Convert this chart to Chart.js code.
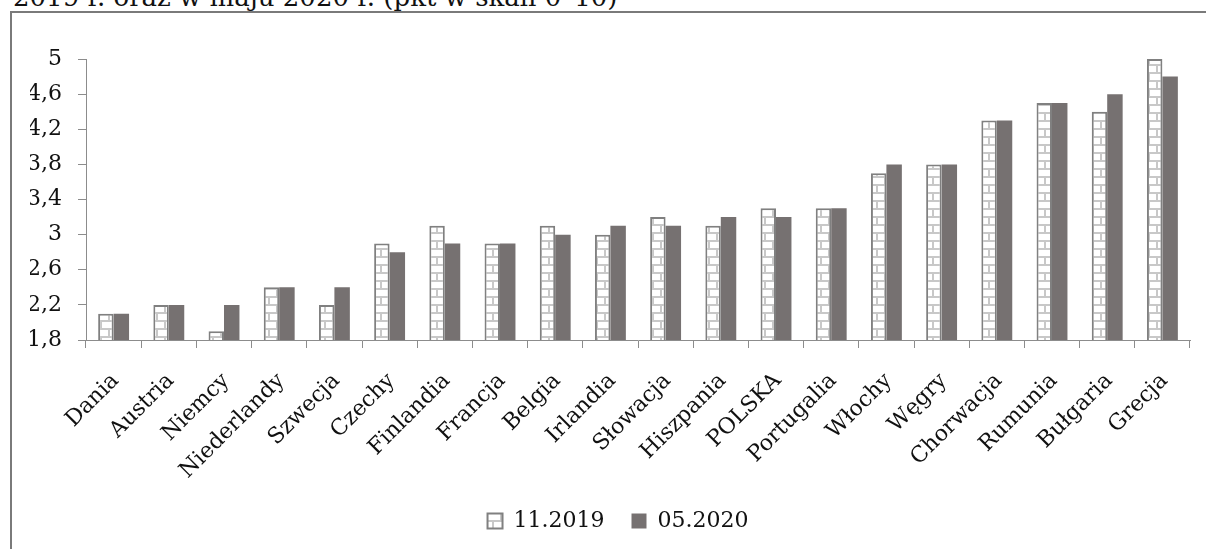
<!DOCTYPE html>
<html lang="pl">
<head>
<meta charset="utf-8">
<title>Wykres</title>
<script src="https://cdn.jsdelivr.net/npm/chart.js@4/dist/chart.umd.min.js"></script>
<style>
  html, body { margin: 0; padding: 0; background: #ffffff; }
  #wrap { position: relative; width: 1206px; height: 549px; overflow: hidden; }
  #caption {
    position: absolute; left: 13px; top: -16px; white-space: nowrap;
    font-family: "DejaVu Serif", serif; font-size: 26px; line-height: 26px; color: #111;
  }
  canvas { position: absolute; left: 0; top: 0; }
</style>
</head>
<body>
<div id="wrap">
  <div id="caption">2019 r. oraz w maju 2020 r. (pkt w skali 0–10)</div>
  <canvas id="chart" width="1206" height="549"></canvas>
</div>
<script>
const categories = ["Dania", "Austria", "Niemcy", "Niederlandy", "Szwecja", "Czechy", "Finlandia",
  "Francja", "Belgia", "Irlandia", "Słowacja", "Hiszpania", "POLSKA", "Portugalia", "Włochy",
  "Węgry", "Chorwacja", "Rumunia", "Bułgaria", "Grecja"];
const values2019 = [2.1, 2.2, 1.9, 2.4, 2.2, 2.9, 3.1, 2.9, 3.1, 3.0, 3.2, 3.1, 3.3, 3.3, 3.7, 3.8, 4.3, 4.5, 4.4, 5.0];
const values2020 = [2.1, 2.2, 2.2, 2.4, 2.4, 2.8, 2.9, 2.9, 3.0, 3.1, 3.1, 3.2, 3.2, 3.3, 3.8, 3.8, 4.3, 4.5, 4.6, 4.8];
const seriesLabels = ["11.2019", "05.2020"];
const yMin = 1.8, yMax = 5, yStep = 0.4;

// Brick fill used by the first series
function brickPattern() {
  const c = document.createElement("canvas");
  c.width = 16; c.height = 16;
  const g = c.getContext("2d");
  g.fillStyle = "#ffffff";
  g.fillRect(0, 0, 16, 16);
  g.fillStyle = "#c8c8c8";
  g.fillRect(0, 0, 16, 2);
  g.fillRect(0, 8, 16, 2);
  g.fillRect(4, 2, 2, 6);
  g.fillRect(12, 10, 2, 6);
  return g.createPattern(c, "repeat");
}
const bricks = brickPattern();

const fontFamily = '"DejaVu Serif", serif';
const axisColor = "#8c8c8c";

// Outer frame of the figure (left and top edges)
const framePlugin = {
  id: "frame",
  beforeDraw(chart) {
    const ctx = chart.ctx;
    ctx.save();
    ctx.strokeStyle = "#7a7a7a";
    ctx.lineWidth = 2;
    ctx.beginPath();
    ctx.moveTo(11, 549);
    ctx.lineTo(11, 12);
    ctx.lineTo(1206, 12);
    ctx.stroke();
    ctx.restore();
  }
};

new Chart(document.getElementById("chart"), {
  type: "bar",
  data: {
    labels: categories,
    datasets: [
      {
        label: seriesLabels[0],
        data: values2019,
        backgroundColor: bricks,
        borderColor: "#808080",
        borderWidth: 2,
        borderSkipped: "bottom"
      },
      {
        label: seriesLabels[1],
        data: values2020,
        backgroundColor: "#767171",
        borderColor: "#767171",
        borderWidth: 0
      }
    ]
  },
  options: {
    responsive: false,
    animation: false,
    devicePixelRatio: 1,
    layout: { padding: { top: 59, left: 30, right: 0, bottom: 7 } },
    datasets: { bar: { categoryPercentage: 0.56, barPercentage: 1.0 } },
    scales: {
      x: {
        offset: true,
        grid: { display: true, offset: true, drawOnChartArea: false, drawTicks: true, tickLength: 8, color: axisColor, lineWidth: 1 },
        border: { display: true, color: axisColor, width: 1 },
        ticks: {
          minRotation: 45, maxRotation: 45, autoSkip: false, padding: 20, labelOffset: 2,
          color: "#111111", font: { family: fontFamily, size: 22 }
        },
        afterFit(scale) { scale.height = 143; }
      },
      y: {
        min: yMin, max: yMax,
        grid: { display: true, drawOnChartArea: false, drawTicks: true, tickLength: 8, color: axisColor, lineWidth: 1 },
        border: { display: true, color: axisColor, width: 1 },
        ticks: {
          stepSize: yStep, padding: 16, color: "#111111",
          font: { family: fontFamily, size: 22 },
          callback: v => String(Math.round(v * 10) / 10).replace(".", ",")
        },
        afterFit(scale) { scale.width = 56; }
      },
      // empty right-hand margin of the plot
      yRight: {
        position: "right",
        display: true,
        grid: { display: false, drawTicks: false },
        border: { display: false },
        ticks: { display: false },
        afterFit(scale) { scale.width = 16; }
      }
    },
    plugins: {
      legend: {
        position: "bottom",
        labels: {
          boxWidth: 15, boxHeight: 15, padding: 27,
          color: "#111111", font: { family: fontFamily, size: 22 }
        }
      },
      tooltip: { enabled: false }
    }
  },
  plugins: [framePlugin]
});
</script>
</body>
</html>
